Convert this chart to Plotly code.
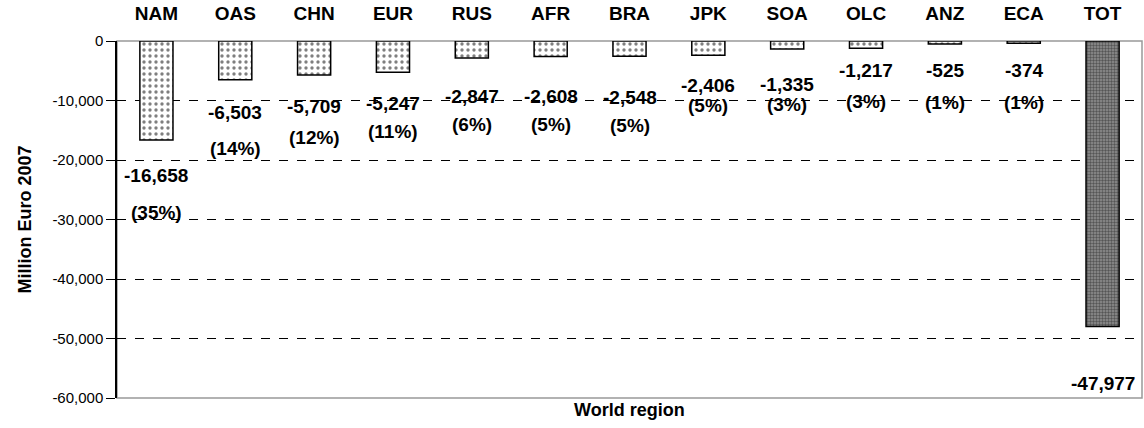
import plotly.graph_objects as go

regions = ["NAM", "OAS", "CHN", "EUR", "RUS", "AFR", "BRA", "JPK", "SOA", "OLC", "ANZ", "ECA", "TOT"]
values = [-16658, -6503, -5709, -5247, -2847, -2608, -2548, -2406, -1335, -1217, -525, -374, -47977]
shares = ["(35%)", "(14%)", "(12%)", "(11%)", "(6%)", "(5%)", "(5%)", "(5%)", "(3%)", "(3%)", "(1%)", "(1%)", ""]
y_ticks = [0, -10000, -20000, -30000, -40000, -50000, -60000]
y_tick_labels = ["0", "-10,000", "-20,000", "-30,000", "-40,000", "-50,000", "-60,000"]

# label offsets below bar end (pixels) - style only
val_off = [35, 33, 32, 31, 39, 40, 41, 30, 36, 22, 26, 27, 57]
pct_off = [72, 69, 63, 59, 67, 68, 69, 50, 56, 53, 58, 59, 0]

FONT = "Liberation Sans, Arial, sans-serif"
LBL = 19

fig = go.Figure()
fig.add_trace(go.Bar(
    x=regions[:-1], y=values[:-1], width=0.42,
    marker=dict(color="white", line=dict(color="black", width=1.5),
                pattern=dict(shape=".", fgcolor="black", bgcolor="white", size=6, solidity=0.25)),
    showlegend=False,
))
fig.add_trace(go.Bar(
    x=regions[-1:], y=values[-1:], width=0.42,
    marker=dict(color="#808080", line=dict(color="black", width=1.5),
                pattern=dict(shape=".", fgcolor="#1a1a1a", bgcolor="#909090", size=3, solidity=0.5)),
    showlegend=False,
))

for i, (r, v, s) in enumerate(zip(regions, values, shares)):
    fig.add_annotation(x=r, y=v, text="<b>%s</b>" % format(v, ","), showarrow=False,
                       yshift=-val_off[i], yanchor="middle",
                       font=dict(family=FONT, size=LBL, color="black"))
    if s:
        fig.add_annotation(x=r, y=v, text="<b>%s</b>" % s, showarrow=False,
                           yshift=-pct_off[i], yanchor="middle",
                           font=dict(family=FONT, size=LBL, color="black"))

fig.add_annotation(xref="paper", yref="paper", x=0.5, y=-0.034, yanchor="middle",
                   text="<b>World region</b>", showarrow=False,
                   font=dict(family=FONT, size=18, color="black"))

fig.add_shape(type="rect", xref="paper", yref="paper", x0=0, x1=1, y0=0, y1=1,
              line=dict(color="#999999", width=1.5), layer="below")

fig.update_layout(
    width=1144, height=428,
    margin=dict(l=117, r=2, t=41, b=30),
    plot_bgcolor="white", paper_bgcolor="white",
    font=dict(family=FONT, size=15, color="black"),
    xaxis=dict(side="top", type="category", categoryorder="array", categoryarray=regions,
               showgrid=False, ticks="", showline=False, zeroline=False,
               tickfont=dict(family=FONT, size=LBL, color="black", weight="bold"),
               ticklabelstandoff=16),
    yaxis=dict(range=[-60000, 0], tickvals=y_ticks, ticktext=y_tick_labels, ticks="outside",
               ticklen=9, tickcolor="black", showline=True, linecolor="black", linewidth=1.5,
               showgrid=True, gridcolor="black", gridwidth=1, griddash="dash",
               zeroline=False, tickfont=dict(family=FONT, size=15, color="black"),
               title=dict(text="<b>Million Euro 2007</b>", standoff=16,
                          font=dict(family=FONT, size=18, color="black"))),
)

fig.write_html("out.html", config={"displayModeBar": False},
               post_script="document.body.style.margin='0';document.body.style.overflow='hidden';")
